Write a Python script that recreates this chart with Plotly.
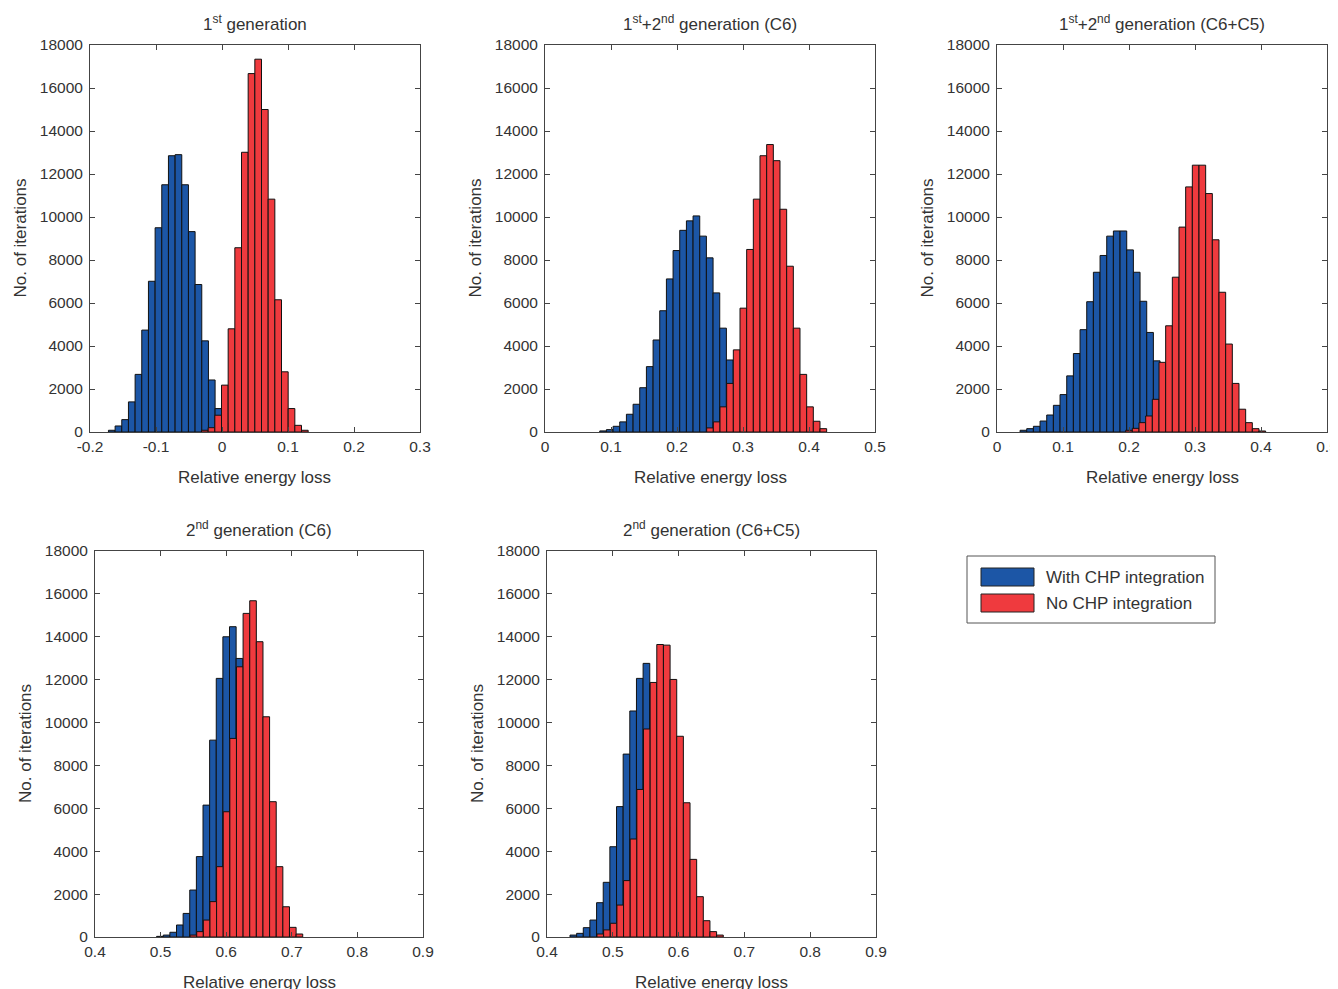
import plotly.graph_objects as go

W, H = 1338, 989
OFF = 8  # page body margin of the html page
BIN = 0.0101

# ---------------- data ----------------
# Panel 1: 1st generation
p1_blue_start = -0.167
p1_blue = [80, 280, 576, 1400, 2680, 4740, 7010, 9500, 11500, 12850, 12900,
           11500, 9320, 6860, 4240, 2420, 1090, 420, 110]
p1_red_start = -0.026
p1_red = [80, 200, 780, 2180, 4800, 8570, 13010, 16670, 17340, 15000, 10830,
          6150, 2800, 1090, 310, 80]

# Panel 2: 1st+2nd generation (C6)
p2_blue_start = 0.088
p2_blue = [50, 110, 265, 470, 825, 1290, 2060, 3040, 4280, 5640, 7120, 8440,
           9380, 9820, 10050, 9110, 8100, 6470, 4830, 3350, 2150, 1170, 590,
           265, 110]
p2_red_start = 0.250
p2_red = [190, 470, 1170, 2260, 3820, 5760, 8490, 10830, 12850, 13370, 12620,
          10360, 7710, 4830, 2680, 1170, 500, 155]

# Panel 3: 1st+2nd generation (C6+C5)
p3_blue_start = 0.040
p3_blue = [80, 155, 265, 510, 790, 1240, 1740, 2610, 3650, 4760, 6060, 7430,
           8210, 9110, 9350, 9350, 8470, 7430, 6080, 4630, 3310, 2300, 1260,
           600, 250, 90, 30]
p3_red_start = 0.200
p3_red = [78, 170, 435, 745, 1520, 3240, 4940, 7200, 9530, 11400, 12410,
          12410, 11090, 8940, 6500, 4090, 2260, 1060, 435, 155, 47]

# Panel 4: 2nd generation (C6)
p4_blue_start = 0.499
p4_blue = [30, 90, 220, 560, 1100, 2190, 3750, 6150, 9180, 12060, 14000,
           14470, 12990, 10190, 6780, 3820, 1960, 790, 250, 90]
p4_red_start = 0.550
p4_red = [90, 250, 790, 1650, 3280, 5840, 9260, 12600, 15090, 15680, 13770,
          10270, 6310, 3280, 1410, 450, 140]

# Panel 5: 2nd generation (C6+C5)
p5_blue_start = 0.440
p5_blue = [90, 170, 435, 790, 1600, 2550, 4210, 6080, 8530, 10540, 12060,
           12760, 11830, 10120, 7630, 5110, 3120, 1650, 715, 250, 90]
p5_red_start = 0.481
p5_red = [140, 330, 640, 1490, 2630, 4570, 6880, 9700, 11870, 13640, 13610,
          12010, 9360, 6260, 3620, 1880, 760, 250, 90]

titles = ["1<sup>st</sup> generation",
          "1<sup>st</sup>+2<sup>nd</sup> generation (C6)",
          "1<sup>st</sup>+2<sup>nd</sup> generation (C6+C5)",
          "2<sup>nd</sup> generation (C6)",
          "2<sup>nd</sup> generation (C6+C5)"]
xranges = [[-0.2, 0.3], [0, 0.5], [0, 0.5], [0.4, 0.9], [0.4, 0.9]]
x_tickvals = [[-0.2, -0.1, 0, 0.1, 0.2, 0.3],
              [0, 0.1, 0.2, 0.3, 0.4, 0.5],
              [0, 0.1, 0.2, 0.3, 0.4, 0.5],
              [0.4, 0.5, 0.6, 0.7, 0.8, 0.9],
              [0.4, 0.5, 0.6, 0.7, 0.8, 0.9]]
x_ticktext = [["-0.2", "-0.1", "0", "0.1", "0.2", "0.3"],
              ["0", "0.1", "0.2", "0.3", "0.4", "0.5"],
              ["0", "0.1", "0.2", "0.3", "0.4", "0.5"],
              ["0.4", "0.5", "0.6", "0.7", "0.8", "0.9"],
              ["0.4", "0.5", "0.6", "0.7", "0.8", "0.9"]]
y_ticks = list(range(0, 18001, 2000))
series_names = ["With CHP integration", "No CHP integration"]
x_label = "Relative energy loss"
y_label = "No. of iterations"

BLUE = "#1c56a6"
RED = "#ef3a3e"

# pixel boxes of each axes in the screenshot: (left, right, top, bottom)
boxes = [(90, 420, 45, 432), (545, 875, 45, 432), (997, 1327, 45, 432),
         (95, 423, 551, 937), (547, 876, 551, 937)]

panels = [
    (p1_blue_start, p1_blue, p1_red_start, p1_red),
    (p2_blue_start, p2_blue, p2_red_start, p2_red),
    (p3_blue_start, p3_blue, p3_red_start, p3_red),
    (p4_blue_start, p4_blue, p4_red_start, p4_red),
    (p5_blue_start, p5_blue, p5_red_start, p5_red),
]


def px(xp):
    return (xp - OFF) / W


def py(yp):
    return 1 - (yp - OFF) / H


FONT = "Liberation Sans, Arial, sans-serif"
TXT = "#333333"
TICK_SIZE = 15.5
LAB_SIZE = 17

fig = go.Figure()
layout = dict(
    width=W, height=H, paper_bgcolor="white", plot_bgcolor="white",
    margin=dict(l=0, r=0, t=0, b=0), showlegend=False, barmode="overlay",
    font=dict(family=FONT, size=TICK_SIZE, color=TXT),
)
annotations = []
shapes = []

for i, ((bs, bv, rs, rv), box, xr, title) in enumerate(zip(panels, boxes, xranges, titles)):
    n = i + 1
    xa = "x" if n == 1 else f"x{n}"
    ya = "y" if n == 1 else f"y{n}"
    bx = [bs + k * BIN for k in range(len(bv))]
    rx = [rs + k * BIN for k in range(len(rv))]
    fig.add_trace(go.Bar(x=bx, y=bv, width=BIN, name=series_names[0],
                         marker=dict(color=BLUE, line=dict(color="#111111", width=1)),
                         xaxis=xa, yaxis=ya))
    fig.add_trace(go.Bar(x=rx, y=rv, width=BIN, name=series_names[1],
                         marker=dict(color=RED, line=dict(color="#111111", width=1)),
                         xaxis=xa, yaxis=ya))
    l, r, t, b = box
    xkey = "xaxis" if n == 1 else f"xaxis{n}"
    ykey = "yaxis" if n == 1 else f"yaxis{n}"
    layout[xkey] = dict(domain=[px(l), px(r)], anchor=ya, range=xr,
                        tickvals=x_tickvals[i], ticktext=x_ticktext[i],
                        showgrid=False, zeroline=False, showline=True,
                        linecolor="#444444", linewidth=1, mirror="ticks",
                        ticks="inside", ticklen=5, tickcolor="#444444",
                        tickfont=dict(size=TICK_SIZE, color=TXT), automargin=False)
    layout[ykey] = dict(domain=[py(b), py(t)], anchor=xa, range=[0, 18000],
                        tickvals=y_ticks, ticktext=[str(v) for v in y_ticks],
                        showgrid=False, zeroline=False, showline=True,
                        linecolor="#444444", linewidth=1, mirror="ticks",
                        ticks="inside", ticklen=5, tickcolor="#444444",
                        ticklabelstandoff=3,
                        tickfont=dict(size=TICK_SIZE, color=TXT), automargin=False)
    cxp = (l + r) / 2
    annotations.append(dict(text=title, x=px(cxp), y=py(t - 9), xref="paper", yref="paper",
                            xanchor="center", yanchor="bottom", showarrow=False,
                            font=dict(size=LAB_SIZE, color=TXT)))
    annotations.append(dict(text=x_label, x=px(cxp), y=py(b + 45), xref="paper", yref="paper",
                            xanchor="center", yanchor="middle", showarrow=False,
                            font=dict(size=LAB_SIZE, color=TXT)))
    annotations.append(dict(text=y_label, x=px(l - 70), y=py((t + b) / 2),
                            xref="paper", yref="paper", xanchor="center", yanchor="middle",
                            textangle=-90, showarrow=False, font=dict(size=LAB_SIZE, color=TXT)))

# legend drawn as a box with swatches and text
lx0, lx1, ly0, ly1 = 967, 1215, 556, 623
shapes.append(dict(type="rect", xref="paper", yref="paper",
                   x0=px(lx0), x1=px(lx1), y0=py(ly1), y1=py(ly0),
                   line=dict(color="#555555", width=1), fillcolor="white"))
for j, (col, name) in enumerate(zip([BLUE, RED], series_names)):
    yc = 577 + j * 26
    shapes.append(dict(type="rect", xref="paper", yref="paper",
                       x0=px(981), x1=px(1034), y0=py(yc + 9), y1=py(yc - 9),
                       line=dict(color="#222222", width=1), fillcolor=col))
    annotations.append(dict(text=name, x=px(1044), y=py(yc), xref="paper", yref="paper",
                            xanchor="left", yanchor="middle", showarrow=False,
                            font=dict(size=LAB_SIZE, color=TXT)))

layout["annotations"] = annotations
layout["shapes"] = shapes
fig.update_layout(**layout)
fig.write_html("out.html")
